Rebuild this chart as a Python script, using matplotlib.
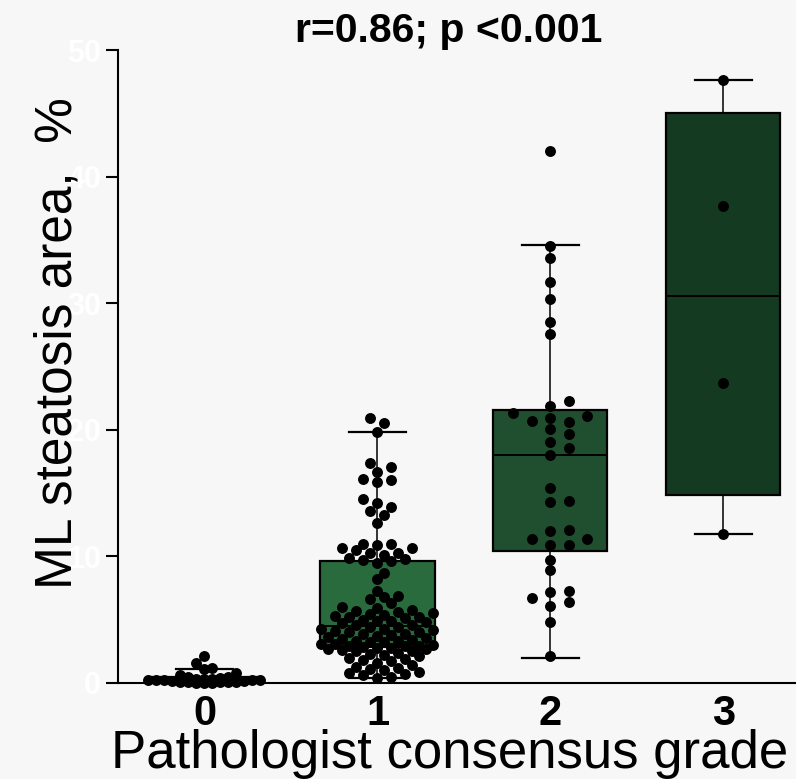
import numpy as np
import matplotlib.pyplot as plt

plt.rcParams['font.family'] = ['Liberation Sans', 'DejaVu Sans']

# values (ML steatosis area, %)
grades = ['0', '1', '2', '3']
grade0 = [2.1, 1.6, 1.2, 1.1, 0.8, 0.6, 0.5, 0.45, 0.4, 0.35, 0.3, 0.3, 0.25,
          0.25, 0.2, 0.2, 0.2, 0.15, 0.15, 0.1, 0.1, 0.1, 0.05, 0.05, 0.0, 0.0, 0.0]
grade1 = [20.9, 20.5, 19.8, 17.4, 17.1, 16.7, 16.1, 16.0, 15.9, 14.5, 14.2, 13.9,
          13.6, 13.3, 12.6, 11.0, 11.0, 10.9, 10.7, 10.7, 10.5, 10.3, 10.3, 10.1,
          9.9, 9.8, 9.7, 9.6,
          9.5, 8.7, 8.2, 7.3, 6.9, 6.8, 6.6, 6.3, 6.0, 5.9, 5.8, 5.7, 5.6, 5.5,
          5.45, 5.4, 5.3, 5.25, 5.2, 5.1, 5.0, 4.9, 4.9, 4.8, 4.7, 4.6, 4.55,
          4.45, 4.4, 4.3, 4.25, 4.2, 4.1, 4.05, 4.0, 3.9, 3.9, 3.8, 3.7, 3.6,
          3.55, 3.5, 3.4, 3.35, 3.3, 3.25, 3.2, 3.1, 3.05, 3.0, 2.95, 2.9, 2.9,
          2.85, 2.8, 2.75, 2.7, 2.65, 2.6, 2.55, 2.5, 2.4, 2.3, 2.2, 2.1, 2.0,
          1.9, 1.8, 1.7, 1.55, 1.4, 1.3, 1.2, 1.1, 1.0, 0.9, 0.8, 0.7, 0.6, 0.5,
          0.4]
grade2 = [42.0, 34.5, 33.6, 31.7, 30.3, 28.5, 27.6, 22.3, 21.9, 21.3, 21.1, 20.9,
          20.7, 20.6, 20.1, 19.7, 19.0, 18.6, 18.0, 15.4, 14.4, 14.3, 12.1, 12.0,
          11.4, 11.4, 10.9, 10.9, 9.7, 8.9, 7.3, 7.2, 6.7, 6.4, 6.1, 4.8, 2.1]
grade3 = [47.6, 37.7, 23.7, 11.8]

# box statistics as drawn in the figure
q1 = [0.05, 2.85, 10.4, 14.85]
med = [0.2, 4.5, 18.0, 30.6]
q3 = [0.45, 9.6, 21.6, 45.0]
whis_lo = [0.0, 0.4, 2.0, 11.8]
whis_hi = [1.1, 19.8, 34.6, 47.6]

box_colors = ['#3a8452', '#2a6b3d', '#1f4f2e', '#153a22']
swarm_step = [8, 7, 18.5, 18.5]      # px between dot columns
swarm_dist = [7, 9, 10, 10]          # px min distance between dots


def swarm_offsets(ys_px, step, min_dist, max_off):
    order = np.argsort(ys_px)
    placed = []
    offs = np.zeros(len(ys_px))
    cands = [0.0]
    for k in range(1, int(max_off // step) + 1):
        cands += [k * step, -k * step]
    for i in order:
        y = ys_px[i]
        best, best_d = 0.0, -1
        for c in cands:
            if placed:
                p = np.array(placed)
                d = np.min(np.hypot(p[:, 0] - c, p[:, 1] - y))
            else:
                d = np.inf
            if d >= min_dist:
                best = c
                break
            if d > best_d:
                best_d, best = d, c
        offs[i] = best
        placed.append((best, y))
    return offs


fig = plt.figure(figsize=(7.96, 7.79), dpi=100, facecolor='#f7f7f7')
ax = fig.add_axes([118 / 796, 96 / 779, 678 / 796, 633 / 779])
ax.set_facecolor('none')
ax.set_xlim(-0.5, 3.42)
ax.set_ylim(0, 50)

stats = []
for i in range(4):
    stats.append(dict(q1=q1[i], med=med[i], q3=q3[i], whislo=whis_lo[i],
                      whishi=whis_hi[i], fliers=[]))
bp = ax.bxp(stats, positions=range(4), widths=0.66, capwidths=0.33,
            patch_artist=True, showfliers=False,
            boxprops=dict(linewidth=1.6, edgecolor='black'),
            whiskerprops=dict(linewidth=1.1, color='black'),
            capprops=dict(linewidth=1.6, color='black'),
            medianprops=dict(linewidth=1.4, color='black'))
for patch, c in zip(bp['boxes'], box_colors):
    patch.set_facecolor(c)

# pixel scales for the swarm layout
x_px = ax.get_position().width * 796 / (3.42 + 0.5)
y_px = ax.get_position().height * 779 / 50.0

for i, vals in enumerate([grade0, grade1, grade2, grade3]):
    vals = np.array(vals)
    offs = swarm_offsets(vals * y_px, swarm_step[i], swarm_dist[i], 56)
    ax.scatter(i + offs / x_px, vals, s=62, color='black', zorder=5,
               linewidths=0, clip_on=False)

for side in ['top', 'right']:
    ax.spines[side].set_visible(False)
ax.spines['left'].set_linewidth(1.5)
ax.spines['bottom'].set_linewidth(1.5)

ax.set_yticks([0, 10, 20, 30, 40, 50])
ax.tick_params(axis='y', length=8.6, width=1.5, labelsize=22, labelcolor='white')
ax.set_xticks(range(4))
ax.set_xticklabels(grades, fontsize=30, fontweight='bold')
ax.tick_params(axis='x', length=0, pad=8)
for lab in ax.get_yticklabels():
    lab.set_fontweight('bold')

ax.set_title('r=0.86; p <0.001', fontsize=29.5, fontweight='bold', pad=6, x=0.488)

fig.text(450 / 796, 1 - 768 / 779, 'Pathologist consensus grade', fontsize=38,
         ha='center', va='baseline')
fig.text(72 / 796, 1 - 343 / 779, 'ML steatosis area,  %', fontsize=37,
         rotation=90, rotation_mode='anchor', ha='center', va='baseline')

fig.savefig('out.png', dpi=100, facecolor=fig.get_facecolor())
